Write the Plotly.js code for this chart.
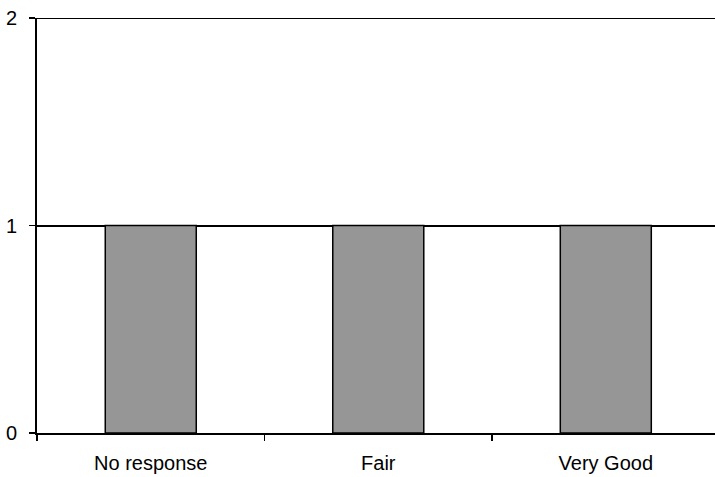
<!DOCTYPE html>
<html>
<head>
<meta charset="utf-8">
<script src="https://cdn.plot.ly/plotly-3.0.1.min.js"></script>
<style>html,body{margin:0;padding:0;background:#fff;}#chart{width:715px;height:477px;}</style>
</head>
<body>
<div id="chart"></div>
<script>
const categories = ["No response", "Fair", "Very Good"];
const values = [1, 1, 1];
const yTicks = [0, 1, 2];

const trace = {
  type: "bar",
  x: categories,
  y: values,
  width: 0.4,
  marker: { color: "#969696", line: { color: "#000000", width: 1.5 } },
  hoverinfo: "skip"
};

const yMax = yTicks[yTicks.length - 1];

const layout = {
  width: 715, height: 477,
  margin: { l: 37, r: 0, t: 18, b: 44 },
  paper_bgcolor: "#ffffff",
  plot_bgcolor: "#ffffff",
  showlegend: false,
  font: { family: "Liberation Sans, Arial, sans-serif", size: 20, color: "#000" },
  xaxis: {
    type: "category",
    range: [-0.5, 2.48],
    showline: true, linecolor: "#000", linewidth: 2,
    ticks: "outside", tickson: "boundaries", ticklen: 6, tickwidth: 1.5, tickcolor: "#000",
    showgrid: false, zeroline: false,
    ticklabelstandoff: 11,
    tickfont: { size: 20 }
  },
  yaxis: {
    range: [0, yMax],
    tickvals: yTicks,
    ticktext: yTicks.map(String),
    showline: true, linecolor: "#000", linewidth: 2,
    ticks: "outside", ticklen: 6, tickwidth: 1.5, tickcolor: "#000",
    showgrid: true, gridcolor: "#000", gridwidth: 2,
    zeroline: false,
    ticklabelstandoff: 8,
    tickfont: { size: 20 }
  },
  shapes: [{
    type: "line", xref: "paper", yref: "y",
    x0: 0, x1: 1, y0: yMax, y1: yMax,
    line: { color: "#000", width: 2 }, layer: "below"
  }],
  bargap: 0.6
};

Plotly.newPlot("chart", [trace], layout, { displayModeBar: false, staticPlot: true });
</script>
</body>
</html>
